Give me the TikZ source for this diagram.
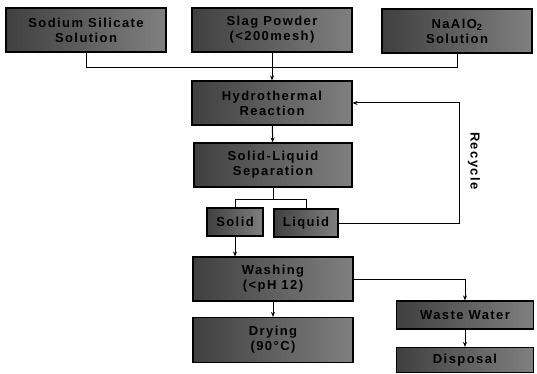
\documentclass[tikz,border=0pt]{standalone}
\usepackage{fontspec}
\setmainfont{Liberation Sans}[LetterSpace=11]
\usetikzlibrary{positioning}
\usetikzlibrary{arrows.meta}
\tikzset{
    procbox/.style = {rectangle, draw=black, line width=1.2pt, left color=black!75, right color=black!50, align=center, font=\fontsize{13}{15}\selectfont\bfseries, inner sep=0pt},
    bigbox/.style = {procbox, minimum width=160pt, minimum height=44pt},
    smallbox/.style = {procbox, minimum height=28pt},
    edgel/.style = {line width=1pt},
    edgea/.style = {line width=1pt, -{Stealth[length=5pt,width=4pt]}},
}

\begin{document}
\begin{tikzpicture}[x=1pt,y=-1pt]
  \useasboundingbox (0,0) rectangle (537,374);
  % raw materials
  \node (sil) at (86,30) [bigbox] {Sodium Silicate\\Solution};
  \node (slag) at (272,30) [bigbox] {Slag Powder\\(<200mesh)};
  \node (naal) at (457,31) [bigbox,minimum width=150pt] {NaAlO\textsubscript{2}\\Solution};
  % main line
  \node (hydro) at (272,103) [bigbox] {Hydrothermal\\Reaction};
  \node (sep) at (273,165) [bigbox,minimum width=158pt] {Solid-Liquid\\Separation};
  \node (solid) at (235,222) [smallbox,minimum width=56pt] {Solid};
  \node (liquid) at (306,223) [smallbox,minimum width=64pt] {Liquid};
  \node (wash) at (273,279) [bigbox] {Washing\\(<pH 12)};
  \node (dry) at (273,340) [bigbox,minimum height=45pt] {Drying\\(90°C)};
  % waste side
  \node (waste) at (465,315) [smallbox,minimum width=137pt] {Waste Water};
  \node (disp) at (465,360) [smallbox,minimum width=137pt,minimum height=25pt] {Disposal};
  \node (recycle) at (474,161) [rotate=-90,font=\fontsize{13}{15}\selectfont\bfseries] {Recycle};
  \coordinate (bus) at (272,68);
  \coordinate (rc) at (459,224);

  \draw[edgel] (sil.south) |- (naal.south |- bus) -- (naal.south);
  \draw[edgea] (slag) -- (hydro);
  \draw[edgea] (hydro) -- (sep);
  \draw[edgel] (sep.south) -- ++(0,12) coordinate (split);
  \draw[edgel] (split) -| (solid.north);
  \draw[edgel] (split) -| (liquid.north);
  \draw[edgea] (solid) -- (solid |- wash.north);
  \draw[edgea] (liquid.east) -| (rc |- hydro.east) -- (hydro.east);
  \draw[edgea] (wash) -- (dry);
  \draw[edgea] (wash.east) -| (waste.north);
  \draw[edgea] (waste) -- (disp);
\end{tikzpicture}
\end{document}
